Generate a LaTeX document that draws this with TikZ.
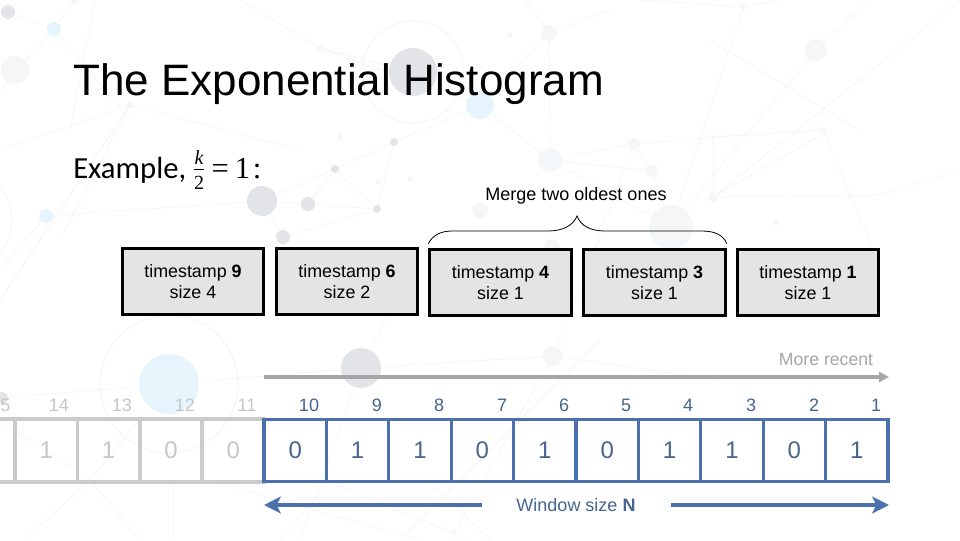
\documentclass[tikz,border=0pt]{standalone}
\usepackage{fontspec}
\setmainfont{Liberation Sans}
\newfontfamily\bodyfont{Carlito}
\newfontfamily\mathserif{Liberation Serif}
\usetikzlibrary{arrows.meta}
\definecolor{winblue}{HTML}{4A70AE}
\definecolor{wintext}{HTML}{46658F}
\definecolor{oldgray}{HTML}{CBCBCB}
\definecolor{oldtext}{HTML}{C6C6C6}
\definecolor{recent}{HTML}{A6A6A6}
\definecolor{boxfill}{HTML}{E4E4E4}
\definecolor{dotgray}{HTML}{E3E4E7}
\definecolor{dotpale}{HTML}{F5F6F7}
\definecolor{dotblue}{HTML}{E6F5FC}
\definecolor{web}{HTML}{F6F6F8}
\tikzset{
  x=0.75pt,y=-0.75pt,
  bucket/.style={draw=black,line width=2.25pt,fill=boxfill,minimum width=106pt,minimum height=50pt,inner sep=0pt,align=center,font=\fontsize{13.4}{15.5}\selectfont,text=black},
  newcell/.style={draw=winblue,line width=2.3pt,minimum width=46.8pt,minimum height=47pt,inner sep=0pt,text=wintext,font=\fontsize{18}{20}\selectfont},
  oldcell/.style={draw=oldgray,line width=2.7pt,minimum width=46.8pt,minimum height=47pt,inner sep=0pt,text=oldtext,font=\fontsize{18}{20}\selectfont},
  newnum/.style={text=wintext,font=\fontsize{13.5}{15}\selectfont,inner sep=0pt},
  oldnum/.style={text=oldtext,font=\fontsize{13.5}{15}\selectfont,inner sep=0pt},
  webline/.style={draw=web,line width=0.6pt},
  ring/.style={draw=web,line width=0.8pt},
  winarrow/.style={draw=winblue,line width=3pt,-{Stealth[length=12.5pt,width=12.5pt,inset=3pt]}},
  timearrow/.style={draw=recent,line width=3pt,-{Triangle[length=7.5pt,width=7.5pt]}},
}
\begin{document}
\begin{tikzpicture}
\clip (0,0) rectangle (960,540);
\fill[white] (0,0) rectangle (960,540);
% background web
\foreach \a/\b/\c/\d in {
 8/12/54/29, 54/29/130/120, 54/29/0/90, 75/0/54/29, 95/0/70/130, 0/150/130/105, 130/105/300/150,
 130/105/60/240, 0/300/130/105, 46/216/262/201, 46/216/0/270, 262/201/308/204, 308/204/377/209,
 262/201/283/237, 308/204/335/169, 335/169/394/142, 377/209/335/169, 377/209/394/142, 394/142/480/105,
 283/237/377/209, 262/201/335/169, 413/72/320/48, 320/48/240/0, 320/48/480/105, 480/105/549/33,
 549/33/525/0, 549/33/610/10, 549/33/550/160, 480/105/550/160, 550/160/634/144, 550/160/652/171,
 634/144/652/171, 634/144/713/137, 652/171/671/227, 550/160/671/227, 671/227/816/50, 713/197/830/130,
 713/137/713/197, 713/137/823/130, 823/130/880/265, 671/227/743/7, 743/7/640/0, 743/7/780/0,
 816/50/870/0, 713/197/960/0, 713/197/880/195, 880/195/960/170, 634/144/590/260, 860/130/710/40,
 169/384/361/368, 2/398/169/384, 169/384/90/480, 361/368/553/356, 361/368/300/540, 361/368/420/250,
 553/356/450/540, 553/356/720/380, 553/356/600/240, 90/480/0/420, 90/480/140/540, 90/480/25/540,
 173/482/173/540, 215/482/420/540, 330/482/280/540, 330/482/470/540, 430/482/490/540, 600/340/400/540}
  {\draw[webline] (\a,\b) -- (\c,\d);}
\foreach \x/\y/\r/\col in {
 8/12/7/dotgray, 75/0/4/dotpale, 54/29/7/dotblue, 15/70/14/dotpale, 320/48/3/dotpale, 130/105/3/dotpale,
 413/72/24/dotgray, 480/105/14/dotblue, 262/201/15/dotgray, 308/204/7/dotgray, 377/209/4/dotgray,
 283/237/7/dotgray, 46/216/7/dotblue, 394/142/4/dotgray, 335/169/4/dotgray, 340/137/3/dotpale,
 378/182/2.5/dotpale, 410/179/2.5/dotpale, 549/33/8/dotpale, 510/35/2.5/dotpale, 550/160/12/dotpale,
 634/144/6/dotpale, 652/171/6/dotpale, 671/227/22/dotpale, 816/50/11/dotpale, 713/197/5/dotpale,
 743/7/3/dotpale, 713/137/2.5/dotpale, 823/130/3/dotpale, 776/222/3/dotpale, 480/210/8/dotpale,
 169/384/30/dotblue, 361/368/20/dotgray, 2/398/6/dotgray, 553/356/10/dotpale, 552/247/8/dotpale}
  {\fill[\col] (\x,\y) circle[radius=\r];}
\draw[ring] (413,72) circle[radius=51];
\draw[ring] (169,384) circle[radius=69];
\draw[ring] (-40,220) circle[radius=52];

% title and example
\node[anchor=base west,inner sep=0pt,font=\fontsize{33}{36}\selectfont] (title) at (73,95) {The Exponential Histogram};
\node[anchor=base west,inner sep=0pt,font=\bodyfont\fontsize{23}{26}\selectfont] (example) at (73,178) {Example,\hspace{-0.5pt} $\frac{\hbox{\mathserif\itshape\fontsize{15}{15}\selectfont k}}{\hbox{\mathserif\fontsize{15}{15}\selectfont 2}}$\hspace{4.5pt}{\mathserif\fontsize{23}{26}\selectfont =\hspace{4.5pt}1\hspace{2pt}:}};

% buckets
\node[bucket] (b9) at (193,281.5) {timestamp \textbf{9}\\size 4};
\node[bucket] (b6) at (347,281.5) {timestamp \textbf{6}\\size 2};
\node[bucket] (b4) at (500.5,282.5) {timestamp \textbf{4}\\size 1};
\node[bucket] (b3) at (654.5,282.5) {timestamp \textbf{3}\\size 1};
\node[bucket] (b1) at (808,282.5) {timestamp \textbf{1}\\size 1};

% brace over the merged buckets
\node[anchor=center,inner sep=0pt,font=\fontsize{13.5}{15}\selectfont] (merge) at (576,196) {Merge two oldest ones};
\coordinate (bl) at ([yshift=3pt]b4.north west);
\coordinate (br) at ([yshift=3pt]b3.north east);
\coordinate (tip) at (577,216);
\draw[black,line width=0.6pt] (bl) .. controls (432,236) and (440,231) .. (452,231) -- (548,231)
  .. controls (562,231) and (573,226) .. (tip) .. controls (581,226) and (590,231) .. (606,231) -- (702,231)
  .. controls (716,231) and (724,236) .. (br);

% more-recent arrow
\node[anchor=center,inner sep=0pt,text=recent,font=\fontsize{13.25}{15}\selectfont] (more) at (826,360) {More recent};
\coordinate (ts) at (264,377);
\coordinate (te) at (889,377);
\draw[timearrow] (ts) -- (te);

% cells
\node[oldnum,anchor=west] (n15) at (0,405) {5};
\node[oldcell] (c15) at (-16.2,450.5) {};
\foreach \n/\cx/\v/\lx in {14/46.2/1/59, 13/108.6/1/122, 12/171/0/185, 11/233.4/0/247}
{
  \node[oldnum] (n\n) at (\lx,405) {\n};
  \node[oldcell] (c\n) at (\cx,450.5) {\raisebox{-1pt}{\v}};
}
\foreach \n/\cx/\v/\lx in {10/295.2/0/309, 9/357.6/1/377, 8/420/1/439, 7/482.4/0/502, 6/544.8/1/564, 5/607.2/0/626, 4/669.6/1/688, 3/732/1/751, 2/794.4/0/814, 1/856.8/1/876}
{
  \node[newnum] (n\n) at (\lx,405) {\n};
  \node[newcell] (c\n) at (\cx,450.5) {\raisebox{-1pt}{\v}};
}

% window arrows
\node[anchor=center,inner sep=0pt,text=wintext,font=\fontsize{13.5}{15}\selectfont] (win) at (576,505.5) {Window size \textbf{N}};
\coordinate (wl) at (482,505);
\coordinate (wle) at (264,505);
\coordinate (wr) at (671,505);
\coordinate (wre) at (889,505);
\draw[winarrow] (wl) -- (wle);
\draw[winarrow] (wr) -- (wre);
\end{tikzpicture}
\end{document}
